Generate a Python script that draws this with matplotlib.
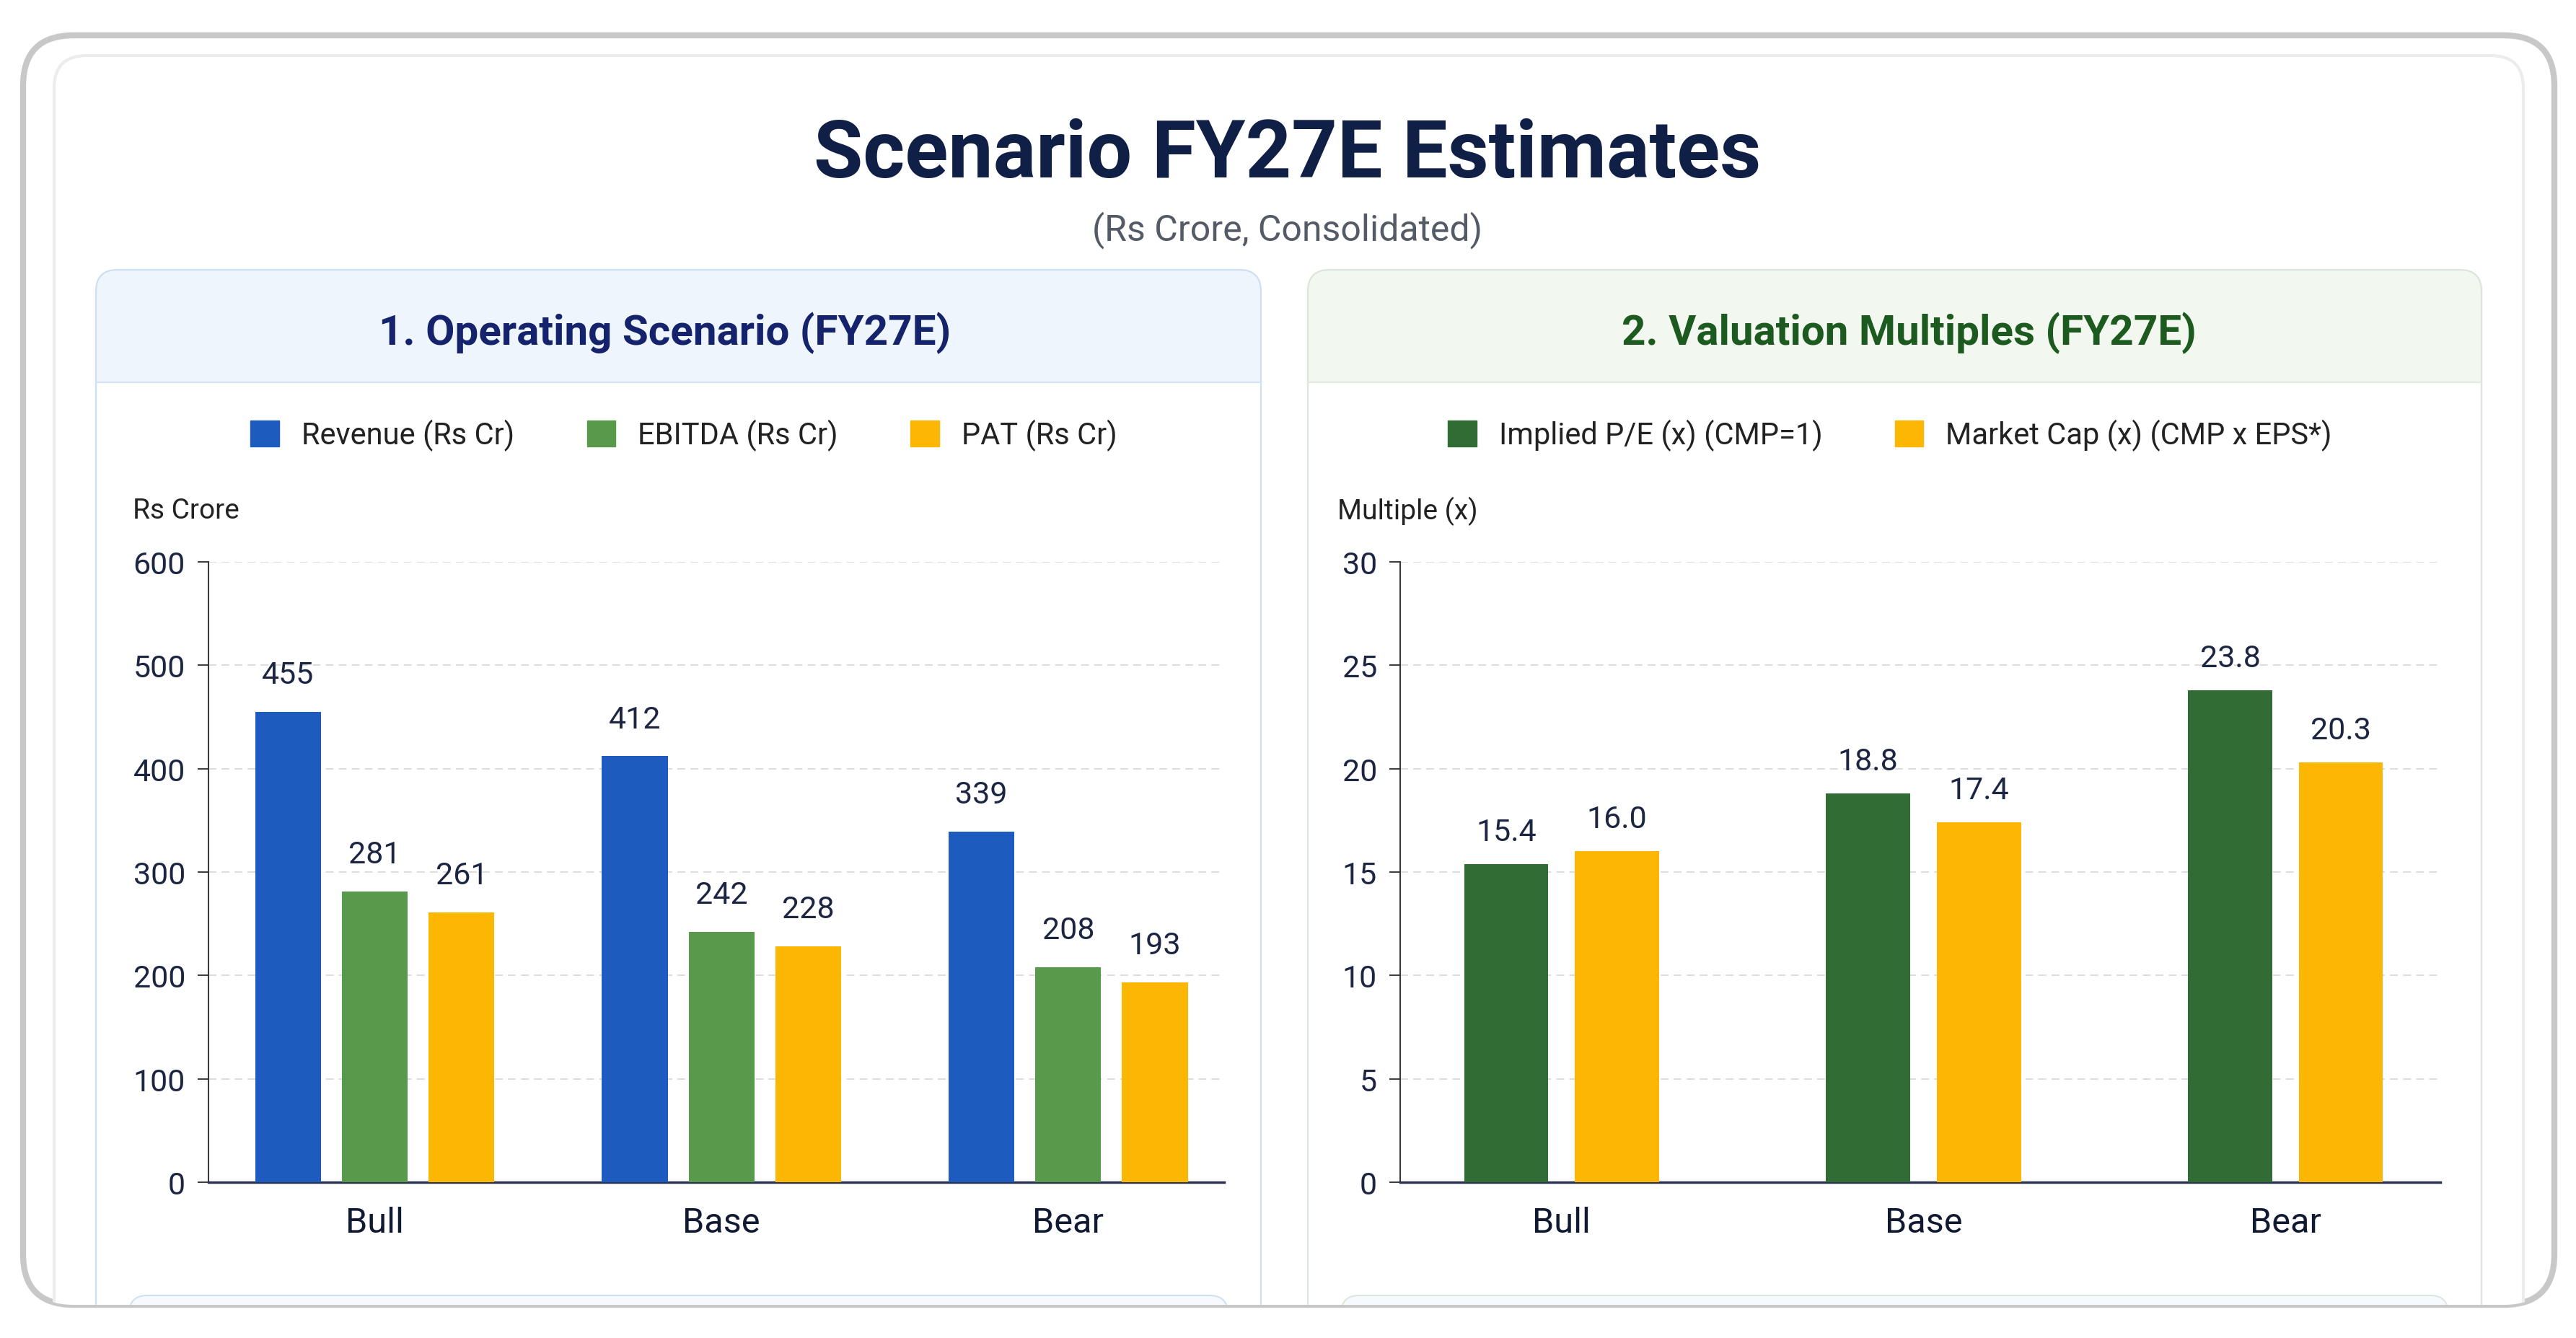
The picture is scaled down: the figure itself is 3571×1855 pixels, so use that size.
import matplotlib.pyplot as plt
from matplotlib.patches import FancyBboxPatch, Rectangle, Patch

plt.rcParams['font.family'] = ['Roboto', 'DejaVu Sans']

# data
categories = ['Bull', 'Base', 'Bear']
revenue = [455, 412, 339]
ebitda = [281, 242, 208]
pat = [261, 228, 193]
implied_pe = [15.4, 18.8, 23.8]
market_cap = [16.0, 17.4, 20.3]

op_series = ['Revenue (Rs Cr)', 'EBITDA (Rs Cr)', 'PAT (Rs Cr)']
val_series = ['Implied P/E (x) (CMP=1)', 'Market Cap (x) (CMP x EPS*)']

BLUE = '#1d5bbf'
GREEN = '#58994b'
AMBER = '#fcb704'
DKGREEN = '#316c35'
NAVY = '#1c2541'

W, H = 3571, 1856
fig = plt.figure(figsize=(W / 100, H / 100), dpi=100)

# background drawing layer in pixel units
bg = fig.add_axes([0, 0, 1, 1])
bg.set_xlim(0, W)
bg.set_ylim(H, 0)
bg.axis('off')

frame = FancyBboxPatch((32, 50), 3509, 1760, boxstyle='round,pad=0,rounding_size=70',
                       fc='white', ec='#c8c8c8', lw=6, zorder=1)
bg.add_patch(frame)
inner = FancyBboxPatch((75, 78), 3423, 1800, boxstyle='round,pad=0,rounding_size=45',
                       fc='white', ec='#ececec', lw=3, zorder=2)
bg.add_patch(inner)
inner.set_clip_path(frame)


def panel(x0, x1, head_fc, edge, line):
    card = FancyBboxPatch((x0, 375), x1 - x0, 1600, boxstyle='round,pad=0,rounding_size=30',
                          fc=head_fc, ec='none', zorder=3)
    bg.add_patch(card)
    body = Rectangle((x0, 531), x1 - x0, 1500, fc='white', ec='none', zorder=4)
    bg.add_patch(body)
    outline = FancyBboxPatch((x0, 375), x1 - x0, 1600, boxstyle='round,pad=0,rounding_size=30',
                             fc='none', ec=edge, lw=1.6, zorder=5)
    bg.add_patch(outline)
    bg.plot([x0, x1], [531, 531], color=line, lw=1.6, zorder=5)
    nxt = FancyBboxPatch((x0 + 46, 1797), x1 - x0 - 92, 200, boxstyle='round,pad=0,rounding_size=25',
                         fc='#f6f9fd', ec=edge, lw=1.4, zorder=5)
    bg.add_patch(nxt)
    for p in (card, body, outline, nxt):
        p.set_clip_path(frame)
    bg.lines[-1].set_clip_path(frame)


panel(133, 1748, '#eef5fd', '#cddff3', '#d4e3f4')
panel(1813, 3440, '#f2f8f0', '#dbe6da', '#e1ebdf')

# titles
fig.text(1785 / W, 1 - 246 / H, 'Scenario FY27E Estimates', ha='center', va='baseline',
         fontsize=80, fontweight='bold', color='#0f1f45')
fig.text(1785 / W, 1 - 333 / H, '(Rs Crore, Consolidated)', ha='center', va='baseline',
         fontsize=36, color='#555b66')
fig.text(922 / W, 1 - 478 / H, '1. Operating Scenario (FY27E)', ha='center', va='baseline',
         fontsize=42, fontweight='bold', color='#14236b')
fig.text(2646 / W, 1 - 478 / H, '2. Valuation Multiples (FY27E)', ha='center', va='baseline',
         fontsize=42, fontweight='bold', color='#1d5a1f')
fig.text(184 / W, 1 - 719 / H, 'Rs Crore', ha='left', va='baseline', fontsize=28, color='#222222')
fig.text(1854 / W, 1 - 720 / H, 'Multiple (x)', ha='left', va='baseline', fontsize=28, color='#222222')


def style_axes(ax):
    ax.set_facecolor('none')
    for s in ('top', 'right'):
        ax.spines[s].set_visible(False)
    ax.spines['left'].set_color('#3a3a3a')
    ax.spines['left'].set_linewidth(1.5)
    ax.spines['bottom'].set_color('#2b3350')
    ax.spines['bottom'].set_linewidth(2.5)
    ax.tick_params(axis='y', length=11, width=1.4, color='#3a3a3a', pad=12,
                   labelsize=31, labelcolor=NAVY)
    ax.tick_params(axis='x', length=0, pad=24, labelsize=35, labelcolor='#111a33')
    ax.yaxis.grid(True, linestyle=(0, (6, 4)), color='#dadada', lw=1.3)
    ax.set_axisbelow(True)


y0, y1 = 780, 1640

# left chart: operating scenario
ax1 = fig.add_axes([289 / W, 1 - y1 / H, (1697 - 289) / W, (y1 - y0) / H])
xs = list(range(len(categories)))
bw, off = 0.19, 0.25
for vals, col, k in zip([revenue, ebitda, pat], [BLUE, GREEN, AMBER], [-1, 0, 1]):
    pos = [x + k * off for x in xs]
    ax1.bar(pos, vals, width=bw, color=col, zorder=3)
    for p, v in zip(pos, vals):
        ax1.annotate(f'{v}', (p, v), xytext=(0, 37), textcoords='offset points',
                     ha='center', va='center', fontsize=31, color=NAVY)
ax1.set_xlim(-0.48, 2.45)
ax1.set_ylim(0, 600)
ax1.set_yticks(range(0, 601, 100))
ax1.set_xticks(xs)
ax1.set_xticklabels(categories)
style_axes(ax1)

fig.legend([Patch(color=c) for c in [BLUE, GREEN, AMBER]], op_series, loc='center',
           bbox_to_anchor=(948 / W, 1 - 604 / H), ncol=3, frameon=False, fontsize=30,
           handlelength=0.95, handleheight=0.95, handletextpad=0.75, columnspacing=2.4,
           labelcolor='#222222')

# right chart: valuation multiples
ax2 = fig.add_axes([1941 / W, 1 - y1 / H, (3383 - 1941) / W, (y1 - y0) / H])
bw2, off2 = 0.233, 0.153
for vals, col, k in zip([implied_pe, market_cap], [DKGREEN, AMBER], [-1, 1]):
    pos = [x + k * off2 for x in xs]
    ax2.bar(pos, vals, width=bw2, color=col, zorder=3)
    for p, v in zip(pos, vals):
        ax2.annotate(f'{v:.1f}', (p, v), xytext=(0, 32), textcoords='offset points',
                     ha='center', va='center', fontsize=31, color=NAVY)
ax2.set_xlim(-0.446, 2.428)
ax2.set_ylim(0, 30)
ax2.set_yticks(range(0, 31, 5))
ax2.set_xticks(xs)
ax2.set_xticklabels(categories)
style_axes(ax2)

fig.legend([Patch(color=c) for c in [DKGREEN, AMBER]], val_series, loc='center',
           bbox_to_anchor=(2620 / W, 1 - 604 / H), ncol=2, frameon=False, fontsize=30,
           handlelength=0.95, handleheight=0.95, handletextpad=0.75, columnspacing=2.4,
           labelcolor='#222222')

fig.savefig('out.png', dpi=100, facecolor='white')
